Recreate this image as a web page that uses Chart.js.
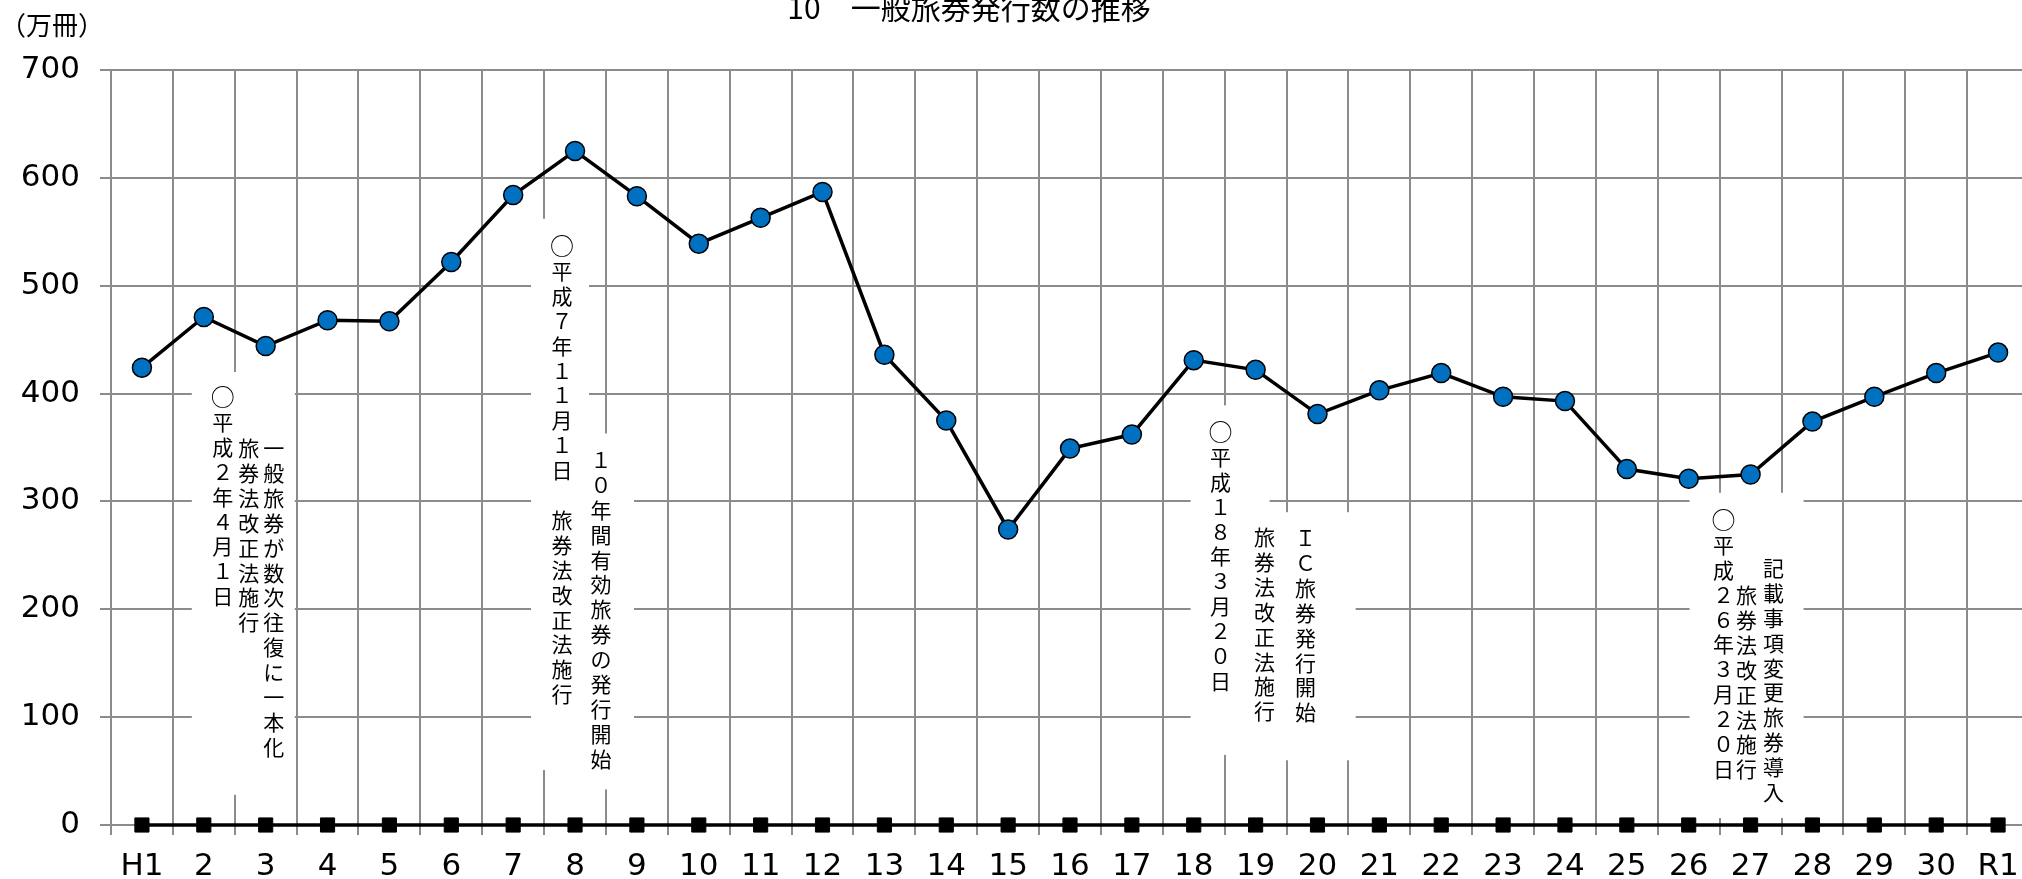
<!DOCTYPE html>
<html lang="ja">
<head>
<meta charset="utf-8">
<title>一般旅券発行数の推移</title>
<script src="https://cdn.jsdelivr.net/npm/chart.js@4.4.1/dist/chart.umd.min.js"></script>
<style>
  html, body { margin: 0; padding: 0; background: #fff; overflow: hidden; }
  canvas { display: block; }
</style>
</head>
<body>
<canvas id="myChart" width="2040" height="879"></canvas>
<script>
const years = ['H1', '2', '3', '4', '5', '6', '7', '8', '9', '10', '11', '12', '13', '14', '15',
  '16', '17', '18', '19', '20', '21', '22', '23', '24', '25', '26', '27', '28', '29', '30', 'R1'];

// 一般旅券発行数（万冊）
const issued = [424, 471, 444, 468, 467, 522, 584, 625, 583, 539, 563, 587, 436, 375, 274,
  349, 362, 431, 422, 381, 403, 419, 397, 393, 330, 321, 325, 374, 397, 419, 438];

const baseline = [0, 0, 0, 0, 0, 0, 0, 0, 0, 0, 0, 0, 0, 0, 0,
  0, 0, 0, 0, 0, 0, 0, 0, 0, 0, 0, 0, 0, 0, 0, 0];

const yTicks = [0, 100, 200, 300, 400, 500, 600, 700];

const chartTitle = '10　一般旅券発行数の推移';
const unitLabel = '（万冊）';

const note1 = ['○平成２年４月１日', '旅券法改正法施行', '一般旅券が数次往復に一本化'];
const note2 = ['○平成７年１１月１日　旅券法改正法施行', '１０年間有効旅券の発行開始'];
const note3 = ['○平成１８年３月２０日', '旅券法改正法施行', 'ＩＣ旅券発行開始'];
const note4 = ['○平成２６年３月２０日', '旅券法改正法施行', '記載事項変更旅券導入'];

const gridColor = '#8c8c8c';

// where each note sits: category index, white boxes [dx1, dx2, yTop, yBottom], columns [dx, yFirst]
const noteLayout = [
  { lines: note1, cat: 1, boxes: [[-12, 91, 420, 28]], cols: [[19, 396.8], [45, 349.5], [70, 349.5]] },
  { lines: note2, cat: 7, boxes: [[-44, 14, 562, 51], [9, 59, 363, 33]], cols: [[-13, 536.8], [26, 338.4]] },
  { lines: note3, cat: 18, boxes: [[-65, 14, 389, 65], [-18, 100, 290, 60]], cols: [[-35, 364.4], [9, 267], [50, 266]] },
  { lines: note4, cat: 26, boxes: [[-61, 53, 308, 6.5]], cols: [[-27, 282.8], [-4, 213.2], [23, 238.3]] }
];

const notesPlugin = {
  id: 'notes',
  beforeDatasetsDraw(chart) {
    const ctx = chart.ctx;
    const x = chart.scales.x, y = chart.scales.y;
    ctx.save();
    noteLayout.forEach(n => {
      const cx = x.getPixelForValue(n.cat);
      ctx.fillStyle = '#fff';
      n.boxes.forEach(b => {
        const top = y.getPixelForValue(b[2]);
        const bottom = y.getPixelForValue(b[3]);
        ctx.fillRect(cx + b[0], top, b[1] - b[0], bottom - top);
      });
      ctx.fillStyle = '#000';
      ctx.font = '21px "Noto Sans CJK JP"';
      ctx.textAlign = 'center';
      ctx.textBaseline = 'middle';
      n.lines.forEach((line, i) => {
        const col = n.cols[i];
        const y0 = y.getPixelForValue(col[1]);
        Array.from(line).forEach((ch, k) => {
          if (ch === '　') return;
          if (ch === '○') {
            // draw the mark a bit larger, like the original text box
            ctx.save();
            ctx.font = '24px "Noto Sans CJK JP"';
            ctx.fillText(ch, cx + col[0], y0 + k * 24.9);
            ctx.restore();
          } else {
            ctx.fillText(ch, cx + col[0], y0 + k * 24.9);
          }
        });
      });
    });
    ctx.restore();
  }
};

const headerPlugin = {
  id: 'header',
  afterDraw(chart) {
    const ctx = chart.ctx;
    ctx.save();
    ctx.fillStyle = '#000';
    ctx.textBaseline = 'alphabetic';
    ctx.textAlign = 'center';
    ctx.font = '30px "Noto Sans CJK JP"';
    ctx.fillText(chartTitle, 969, 19);
    ctx.textAlign = 'left';
    ctx.textBaseline = 'middle';
    ctx.font = '26px "Noto Sans CJK JP"';
    ctx.fillText(unitLabel, 0, 25);
    ctx.restore();
  }
};

const ctx = document.getElementById('myChart');

new Chart(ctx, {
  type: 'line',
  data: {
    labels: years,
    datasets: [
      {
        label: 'base',
        data: baseline,
        borderColor: '#000',
        borderWidth: 3.5,
        pointStyle: 'rect',
        pointRadius: 10,
        pointBackgroundColor: '#000',
        pointBorderColor: '#000',
        pointBorderWidth: 1,
        clip: false
      },
      {
        label: '一般旅券発行数',
        data: issued,
        borderColor: '#000',
        borderWidth: 3.5,
        pointRadius: 9.5,
        pointBackgroundColor: '#0070C0',
        pointBorderColor: '#000',
        pointBorderWidth: 1.5,
        clip: false
      }
    ]
  },
  options: {
    responsive: false,
    animation: false,
    layout: { padding: { top: 70, right: 7, left: 0, bottom: 0 } },
    plugins: {
      legend: { display: false },
      tooltip: { enabled: false }
    },
    scales: {
      x: {
        offset: true,
        grid: { offset: true, color: gridColor, lineWidth: 2, tickLength: 10 },
        border: { color: gridColor, width: 2 },
        ticks: {
          color: '#000',
          font: { family: 'DejaVu Sans', size: 31 },
          padding: 13,
          maxRotation: 0,
          autoSkip: false
        },
        afterFit(scale) { scale.height = 54; }
      },
      y: {
        min: 0,
        max: 700,
        afterBuildTicks(scale) { scale.ticks = yTicks.map(v => ({ value: v })); },
        grid: { color: gridColor, lineWidth: 2, tickLength: 11 },
        border: { color: gridColor, width: 2 },
        ticks: {
          color: '#000',
          font: { family: 'DejaVu Sans', size: 31 },
          padding: 20
        },
        afterFit(scale) { scale.width = 111; }
      }
    }
  },
  plugins: [notesPlugin, headerPlugin]
});
</script>
</body>
</html>
